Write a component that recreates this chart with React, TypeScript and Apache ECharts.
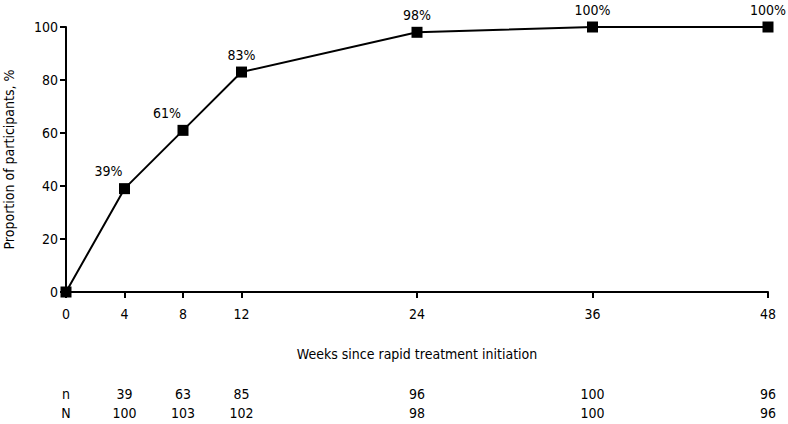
import React, { useEffect, useRef } from "react";
import * as echarts from "echarts";

const weeks = [0, 4, 8, 12, 24, 36, 48];
const proportion = [0, 39, 61, 83, 98, 100, 100];
const pctLabels = ["", "39%", "61%", "83%", "98%", "100%", "100%"];
const nRow = ["n", "39", "63", "85", "96", "100", "96"];
const NRow = ["N", "100", "103", "102", "98", "100", "96"];
const yTicks = [0, 20, 40, 60, 80, 100];

const FONT = "'Liberation Sans Narrow', 'DejaVu Sans Condensed', 'Roboto', sans-serif";
const FS = 14;

export default function App() {
  const ref = useRef<HTMLDivElement>(null);
  useEffect(() => {
    const chart = echarts.init(ref.current!, null, { renderer: "svg" });
    const lookup = (row: string[]) => (v: number) => {
      const i = weeks.indexOf(v);
      return i >= 0 ? row[i] : "";
    };
    const baseX = {
      type: "value" as const,
      min: 0,
      max: 48,
      splitLine: { show: false },
    };
    chart.setOption({
      animation: false,
      textStyle: { fontFamily: FONT, color: "#000" },
      grid: { left: 66, right: 20, top: 27, bottom: 132, outerBoundsMode: "none", containLabel: false },
      xAxis: [
        {
          ...baseX,
          position: "bottom",
          name: "Weeks since rapid treatment initiation",
          nameLocation: "middle",
          nameGap: 55,
          nameTextStyle: { fontFamily: FONT, fontSize: FS, color: "#000" },
          axisLine: { show: true, onZero: false, lineStyle: { color: "#000", width: 2 } },
          axisTick: { show: true, length: 6, customValues: weeks, lineStyle: { color: "#000", width: 2 } },
          axisLabel: {
            customValues: weeks,
            margin: 15,
            fontFamily: FONT,
            fontSize: FS,
            color: "#000",
            formatter: (v: number) => String(v),
          },
        },
        {
          ...baseX,
          position: "bottom",
          offset: 95,
          axisLine: { show: false },
          axisTick: { show: false },
          axisLabel: {
            customValues: weeks,
            margin: 0,
            fontFamily: FONT,
            fontSize: FS,
            color: "#000",
            formatter: lookup(nRow),
          },
        },
        {
          ...baseX,
          position: "bottom",
          offset: 114,
          axisLine: { show: false },
          axisTick: { show: false },
          axisLabel: {
            customValues: weeks,
            margin: 0,
            fontFamily: FONT,
            fontSize: FS,
            color: "#000",
            formatter: lookup(NRow),
          },
        },
      ],
      yAxis: {
        type: "value",
        min: 0,
        max: 100,
        interval: 20,
        name: "Proportion of participants, %",
        nameLocation: "middle",
        nameGap: 50,
        nameTextStyle: { fontFamily: FONT, fontSize: FS, color: "#000" },
        splitLine: { show: false },
        axisLine: { show: true, lineStyle: { color: "#000", width: 2 } },
        axisTick: { show: true, length: 6, lineStyle: { color: "#000", width: 2 } },
        axisLabel: {
          customValues: yTicks,
          margin: 8,
          fontFamily: FONT,
          fontSize: FS,
          color: "#000",
        },
      },
      series: [
        {
          type: "line",
          xAxisIndex: 0,
          symbol: "rect",
          symbolSize: 11,
          showAllSymbol: true,
          lineStyle: { color: "#000", width: 2 },
          itemStyle: { color: "#000" },
          label: {
            show: true,
            position: "top",
            distance: 5,
            fontFamily: FONT,
            fontSize: FS,
            color: "#000",
            formatter: (p: any) => pctLabels[p.dataIndex],
          },
          data: weeks.map((w, i) => {
            const d: any = { value: [w, proportion[i]] };
            if (i === 1 || i === 2) d.label = { offset: [-16, 0] };
            return d;
          }),
        },
      ],
    });
    return () => chart.dispose();
  }, []);
  return <div ref={ref} style={{ width: 788, height: 424, position: "absolute", left: 0, top: 0 }} />;
}
